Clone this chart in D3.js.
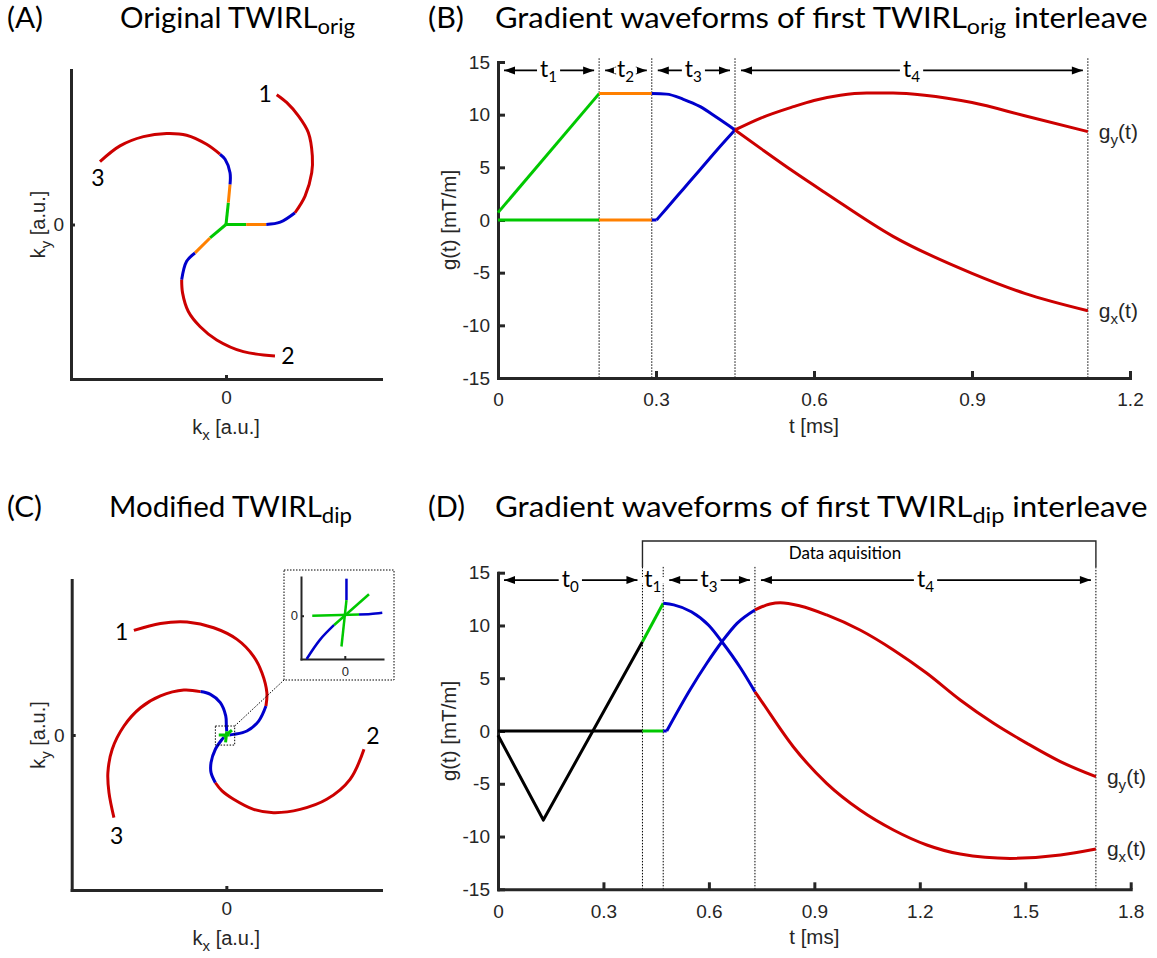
<!DOCTYPE html>
<html>
<head>
<meta charset="utf-8">
<script src="https://cdn.jsdelivr.net/npm/d3@7"></script>
<style>
  body { margin: 0; background: #fff; }
  svg { display: block; }
</style>
</head>
<body>
<svg id="fig" width="1157" height="958"></svg>
<script>
// ---------- data ----------
// gradient phases and the colour each one is drawn in
const phases = ['t0', 't1', 't2', 't3', 't4'];
const phaseColors = ['#000000', '#00c800', '#ff8000', '#0000cc', '#cc0000'];

// (A) original TWIRL, three interleaves, kx / ky in a.u. (-1..1)
const origArm1 = [
  ['t1', [[0, 0], [0.13, 0]]],
  ['t2', [[0.13, 0], [0.26, 0]]],
  ['t3', [[0.26, 0], [0.35, 0.015], [0.445, 0.076]]],
  ['t4', [[0.445, 0.076], [0.51, 0.184], [0.553, 0.335], [0.557, 0.444], [0.531, 0.595], [0.467, 0.703], [0.391, 0.79], [0.327, 0.84]]]
];
const origArm2 = [
  ['t1', [[0, 0], [-0.103, -0.087]]],
  ['t2', [[-0.103, -0.087], [-0.2, -0.184]]],
  ['t3', [[-0.2, -0.184], [-0.254, -0.238], [-0.286, -0.357]]],
  ['t4', [[-0.286, -0.357], [-0.28, -0.444], [-0.243, -0.563], [-0.168, -0.66], [-0.06, -0.747], [0.112, -0.823], [0.316, -0.851]]]
];
const origArm3 = [
  ['t1', [[0, 0], [0.015, 0.141]]],
  ['t2', [[0.015, 0.141], [0.026, 0.26]]],
  ['t3', [[0.026, 0.26], [0.026, 0.335], [-0.006, 0.422], [-0.039, 0.455]]],
  ['t4', [[-0.039, 0.455], [-0.125, 0.519], [-0.254, 0.578], [-0.383, 0.589], [-0.533, 0.569], [-0.684, 0.509], [-0.813, 0.407]]]
];
const origLabels = [['1', 0.252, 0.844], ['2', 0.40, -0.85], ['3', -0.826, 0.305]];

// (C) modified TWIRL with dip
const dipArm1 = [
  ['t3', [[0.021, 0], [0.047, 0.004], [0.133, 0.026], [0.209, 0.09], [0.256, 0.187]]],
  ['t4', [[0.256, 0.187], [0.262, 0.273], [0.23, 0.402], [0.176, 0.508], [0.069, 0.617], [-0.082, 0.692], [-0.254, 0.729], [-0.426, 0.72], [-0.598, 0.675]]],
  ['t1', [[-0.049, 0], [0.021, 0]]]
];
const dipArm2 = [
  ['t3', [[-0.016, -0.014], [-0.028, -0.028], [-0.071, -0.092], [-0.099, -0.178], [-0.099, -0.243], [-0.071, -0.308]]],
  ['t4', [[-0.071, -0.308], [-0.028, -0.361], [0.047, -0.415], [0.176, -0.48], [0.305, -0.501], [0.477, -0.48], [0.649, -0.415], [0.8, -0.286], [0.89, -0.092]]],
  ['t1', [[0.036, 0.032], [-0.016, -0.014]]]
];
const dipArm3 = [
  ['t3', [[0.0025, 0.0235], [0.0, 0.06], [-0.004, 0.123], [-0.039, 0.209], [-0.103, 0.262], [-0.168, 0.28]]],
  ['t4', [[-0.168, 0.28], [-0.275, 0.29], [-0.426, 0.252], [-0.555, 0.176], [-0.662, 0.058], [-0.738, -0.092], [-0.766, -0.243], [-0.759, -0.372], [-0.727, -0.533]]],
  ['t1', [[-0.005, -0.047], [0.0025, 0.0235]]]
];
const dipLabels = [['1', -0.677, 0.665], ['2', 0.948, -0.006], ['3', -0.71, -0.652]];
const dipZoomBox = [[-0.071, -0.065], [0.054, 0.058]];

// (C) inset, zoom on the k-space centre
const insetArm1 = [
  ['t3', [[0.358, 0.033], [0.65, 0.045], [0.942, 0.075]]],
  ['t1', [[-0.817, 0], [0.358, 0.033]]]
];
const insetArm2 = [
  ['t3', [[-0.267, -0.233], [-0.625, -0.608], [-0.958, -1.09]]],
  ['t1', [[0.608, 0.542], [-0.267, -0.233]]]
];
const insetArm3 = [
  ['t3', [[0.042, 0.392], [0.042, 0.933]]],
  ['t1', [[-0.083, -0.775], [0.042, 0.392]]]
];

// (B) gradient waveforms of TWIRL_orig, t in ms, g in mT/m
const bTimes = [0, 0.192, 0.292, 0.45, 1.12];
const bPhaseNames = ['1', '2', '3', '4'];
const bGx = [
  ['t1', [[0, 0.7], [0.192, 12]]],
  ['t2', [[0.192, 12], [0.292, 12]]],
  ['t3', [[0.292, 12], [0.32, 11.95], [0.352, 11.46], [0.384, 10.76], [0.415, 9.75], [0.45, 8.55]]],
  ['t4', [[0.45, 8.55], [0.5, 6.75], [0.561, 4.6], [0.624, 2.5], [0.75, -1.55], [0.9, -5.06], [1.0, -6.96], [1.12, -8.61]]]
];
const bGy = [
  ['t1', [[0, 0], [0.192, 0]]],
  ['t2', [[0.192, 0], [0.292, 0]]],
  ['t3', [[0.292, 0], [0.301, 0]]],
  ['t3', [[0.301, 0], [0.32, 1.1], [0.352, 2.95], [0.384, 4.8], [0.415, 6.6], [0.45, 8.55]]],
  ['t4', [[0.45, 8.55], [0.5, 9.7], [0.561, 10.76], [0.6, 11.35], [0.65, 11.85], [0.7, 12.05], [0.75, 12.05], [0.81, 11.85], [0.9, 11.15], [1.0, 9.9], [1.12, 8.39]]]
];

// (D) gradient waveforms of TWIRL_dip
const dTimes = [0, 0.411, 0.47, 0.731, 1.701];
const dPhaseNames = ['0', '1', '3', '4'];
const dGx = [
  ['t0', [[0, -0.4], [0.129, -8.44], [0.411, 8.46]]],
  ['t1', [[0.411, 8.46], [0.47, 12.1]]],
  ['t3', [[0.47, 12.1], [0.5, 11.95], [0.55, 11.3], [0.6, 10.0], [0.637, 8.46], [0.69, 5.97], [0.731, 3.72]]],
  ['t4', [[0.731, 3.72], [0.746, 3.0], [0.84, -1.49], [0.935, -4.96], [1.03, -7.49], [1.125, -9.38], [1.22, -10.8], [1.315, -11.66], [1.457, -12.07], [1.6, -11.75], [1.701, -11.18]]]
];
const dGy = [
  ['t0', [[0, 0], [0.411, 0]]],
  ['t1', [[0.411, 0], [0.47, 0]]],
  ['t3', [[0.47, 0], [0.48, 0]]],
  ['t3', [[0.48, 0], [0.546, 3.89], [0.594, 6.42], [0.637, 8.46], [0.68, 10.2], [0.731, 11.47]]],
  ['t4', [[0.731, 11.47], [0.774, 12.04], [0.803, 12.16], [0.86, 11.85], [0.935, 11.0], [1.03, 9.57], [1.125, 7.68], [1.22, 5.47], [1.315, 2.94], [1.41, 0.73], [1.505, -1.17], [1.6, -2.9], [1.701, -4.33]]]
];
const dAcq = [0.411, 1.701];

const gTicks = [-15, -10, -5, 0, 5, 10, 15];
const bTicks = [0, 0.3, 0.6, 0.9, 1.2];
const dTicks = [0, 0.3, 0.6, 0.9, 1.2, 1.5, 1.8];

// ---------- drawing ----------
const svg = d3.select('#fig');
svg.append('rect').attr('width', 1157).attr('height', 958).attr('fill', '#fff');

const color = d3.scaleOrdinal(phases, phaseColors);
const ARIAL = '"Liberation Sans", Arial, Helvetica, sans-serif';
const CALI = 'Lato, "Open Sans", sans-serif';
const INK = '#262626';

// text made of normal and subscript pieces
function makeLabel(g, x, y, parts, fs, family, anchor, fill, subScale = 0.72, subShift = 0.22) {
  const t = g.append('text')
    .attr('x', x).attr('y', y)
    .attr('font-family', family).attr('font-size', fs)
    .attr('fill', fill || '#000')
    .attr('text-anchor', anchor || 'start');
  let shift = 0;
  parts.forEach(([s, sub]) => {
    const want = sub ? fs * subShift : 0;
    const ts = t.append('tspan').attr('dy', want - shift).text(s);
    if (sub) ts.attr('font-size', fs * subScale);
    shift = want;
  });
  return t;
}

// title text, squeezed sideways so it spans the same width as the original
function titleLabel(g, x, y, parts, width, fs = 29) {
  const gg = g.append('g');
  const t = makeLabel(gg, 0, 0, parts, fs, CALI, 'start', '#000', 0.75, 0.2);
  const w = t.node().getBBox().width;
  gg.attr('transform', `translate(${x},${y}) scale(${width ? width / w : 1},1)`);
  return gg;
}

function styleAxis(a, w, fs) {
  a.attr('font-family', ARIAL).attr('font-size', fs);
  a.select('.domain').attr('stroke', INK).attr('stroke-width', w).attr('stroke-linecap', 'square');
  a.selectAll('.tick line').attr('stroke', INK).attr('stroke-width', w);
  a.selectAll('.tick text').attr('fill', INK);
}

function drawArm(g, arm, x, y, w) {
  const line = d3.line().x(d => x(d[0])).y(d => y(d[1])).curve(d3.curveCatmullRom);
  arm.forEach(([ph, pts]) => {
    g.append('path').attr('d', line(pts))
      .attr('fill', 'none').attr('stroke', color(ph))
      .attr('stroke-width', w).attr('stroke-linejoin', 'round');
  });
}

function kAxes(g, x, y) {
  const ax = g.append('g').attr('transform', `translate(0,${y(-1)})`)
    .call(d3.axisBottom(x).tickValues([0]).tickFormat(d => String(d))
      .tickSizeInner(-4).tickSizeOuter(0).tickPadding(12));
  const ay = g.append('g').attr('transform', `translate(${x(-1)},0)`)
    .call(d3.axisLeft(y).tickValues([0]).tickFormat(d => String(d))
      .tickSizeInner(-4).tickSizeOuter(0).tickPadding(7));
  styleAxis(ax, 3, 19);
  styleAxis(ay, 3, 19);
  makeLabel(g, x(0), y(-1) + 55, [['k'], ['x', 1], [' [a.u.]']], 20, ARIAL, 'middle', INK, 0.75, 0.3);
  const r = g.append('g').attr('transform', `translate(45,${y(0)}) rotate(-90)`);
  makeLabel(r, 0, 0, [['k'], ['y', 1], [' [a.u.]']], 20, ARIAL, 'middle', INK, 0.75, 0.3);
}

function armLabels(g, labels, x, y) {
  labels.forEach(([s, kx, ky]) => {
    g.append('text').attr('x', x(kx)).attr('y', y(ky)).attr('dy', '0.36em')
      .attr('text-anchor', 'middle').attr('font-family', CALI).attr('font-size', 23)
      .attr('fill', '#000').text(s);
  });
}

function waveAxes(g, x, y, xTicks) {
  const ax = g.append('g').attr('transform', `translate(0,${y(-15)})`)
    .call(d3.axisBottom(x).tickValues(xTicks).tickSizeInner(-7).tickSizeOuter(0).tickPadding(15)
      .tickFormat(d => d === 0 ? '0' : d.toFixed(1)));
  const ay = g.append('g').attr('transform', `translate(${x(0)},0)`)
    .call(d3.axisLeft(y).tickValues(gTicks).tickSizeInner(-7).tickSizeOuter(0).tickPadding(8)
      .tickFormat(d => String(d)));
  styleAxis(ax, 3, 19);
  styleAxis(ay, 3, 19);
  const r = g.append('g').attr('transform', `translate(456,${y(0)}) rotate(-90)`);
  makeLabel(r, 0, 0, [['g(t) [mT/m]']], 20.5, ARIAL, 'middle', INK);
  makeLabel(g, (x.range()[0] + x.range()[1]) / 2, y(-15) + 55, [['t [ms]']], 20.5, ARIAL, 'middle', INK);
}

function drawWave(g, x, y, series) {
  const segs = series.flat().slice()
    .sort((a, b) => phases.indexOf(a[0]) - phases.indexOf(b[0]));
  segs.forEach(([ph, pts]) => {
    const line = d3.line().x(d => x(d[0])).y(d => y(d[1]))
      .curve(ph === 't0' ? d3.curveLinear : d3.curveMonotoneX);
    g.append('path').attr('d', line(pts))
      .attr('fill', 'none').attr('stroke', color(ph))
      .attr('stroke-width', 3).attr('stroke-linejoin', 'round');
  });
}

function dotted(g, x1, y1, x2, y2) {
  g.append('line').attr('x1', x1).attr('y1', y1).attr('x2', x2).attr('y2', y2)
    .attr('stroke', '#000').attr('stroke-width', 1).attr('stroke-dasharray', '1.5,1.5');
}

function phaseArrows(g, x, yPix, bounds, names) {
  names.forEach((n, i) => {
    const a = x(bounds[i]), b = x(bounds[i + 1]);
    const cx = (a + b) / 2;
    const gg = g.append('g');
    if (b - a > 35) {
      const x0 = a + 6, x1 = b - 5;
      gg.append('line').attr('x1', x0).attr('x2', x1).attr('y1', yPix).attr('y2', yPix)
        .attr('stroke', '#000').attr('stroke-width', 1.8);
      gg.append('path').attr('d', `M${x0},${yPix}l11,-4v8z`).attr('fill', '#000');
      gg.append('path').attr('d', `M${x1},${yPix}l-11,-4v8z`).attr('fill', '#000');
    }
    const bg = gg.append('rect').attr('fill', '#fff');
    const t = makeLabel(gg, cx, yPix + 7, [['t'], [n, 1]], 23, CALI, 'middle', '#000', 0.66, 0.22);
    const bb = t.node().getBBox();
    bg.attr('x', bb.x - 3).attr('y', yPix - 3).attr('width', bb.width + 6).attr('height', 6);
  });
}

function endLabels(g, x, y, tEnd, gx, gy) {
  const lastVal = s => { const p = s[s.length - 1][1]; return p[p.length - 1][1]; };
  makeLabel(g, x(tEnd) + 11, y(lastVal(gy)) + 7, [['g'], ['y', 1], ['(t)']], 21, ARIAL, 'start', INK, 0.72, 0.3);
  makeLabel(g, x(tEnd) + 11, y(lastVal(gx)) + 7, [['g'], ['x', 1], ['(t)']], 21, ARIAL, 'start', INK, 0.72, 0.3);
}

// ---- titles ----
const titles = svg.append('g');
titleLabel(titles, 7, 28, [['(A)']], 36);
titleLabel(titles, 120, 28, [['Original TWIRL'], ['orig', 1]], 235);
titleLabel(titles, 428, 28, [['(B)']], 36);
titleLabel(titles, 495, 28, [['Gradient waveforms of first TWIRL'], ['orig', 1], [' interleave']], 653);
titleLabel(titles, 7, 517, [['(C)']], 35);
titleLabel(titles, 109, 517, [['Modified TWIRL'], ['dip', 1]], 243);
titleLabel(titles, 428, 517, [['(D)']], 37);
titleLabel(titles, 495, 517, [['Gradient waveforms of first TWIRL'], ['dip', 1], [' interleave']], 653);

// ---- (A) ----
const xA = d3.scaleLinear([-1, 1], [71, 381]);
const yA = d3.scaleLinear([-1, 1], [379, 70]);
const gA = svg.append('g');
kAxes(gA, xA, yA);
[origArm1, origArm2, origArm3].forEach(arm => drawArm(gA, arm, xA, yA, 3));
armLabels(gA, origLabels, xA, yA);

// ---- (C) ----
const xC = d3.scaleLinear([-1, 1], [71.7, 381]);
const yC = d3.scaleLinear([-1, 1], [890, 580]);
const gC = svg.append('g');
kAxes(gC, xC, yC);
[dipArm1, dipArm2, dipArm3].forEach(arm => drawArm(gC, arm.filter(s => s[0] !== 't1'), xC, yC, 3));
[dipArm1, dipArm2, dipArm3].forEach(arm => drawArm(gC, arm.filter(s => s[0] === 't1'), xC, yC, 3));
armLabels(gC, dipLabels, xC, yC);
const bx0 = xC(dipZoomBox[0][0]), bx1 = xC(dipZoomBox[1][0]);
const by0 = yC(dipZoomBox[1][1]), by1 = yC(dipZoomBox[0][1]);
gC.append('rect').attr('x', bx0).attr('y', by0).attr('width', bx1 - bx0).attr('height', by1 - by0)
  .attr('fill', 'none').attr('stroke', '#000').attr('stroke-width', 1).attr('stroke-dasharray', '1.5,1.5');
dotted(gC, bx1, by0, 284, 680);

// inset
const gI = svg.append('g');
gI.append('rect').attr('x', 284).attr('y', 570).attr('width', 110).attr('height', 110)
  .attr('fill', '#fff').attr('stroke', '#000').attr('stroke-width', 1).attr('stroke-dasharray', '1.5,1.5');
const xI = d3.scaleLinear([-1.1, 0.96], [301, 383]);
const yI = d3.scaleLinear([-1.09, 0.975], [659, 577]);
const iax = gI.append('g').attr('transform', `translate(0,${yI(-1.09)})`)
  .call(d3.axisBottom(xI).tickValues([0]).tickFormat(d => String(d))
    .tickSizeInner(-3).tickSizeOuter(0).tickPadding(8));
const iay = gI.append('g').attr('transform', `translate(${xI(-1.1)},0)`)
  .call(d3.axisLeft(yI).tickValues([0]).tickFormat(d => String(d))
    .tickSizeInner(-3).tickSizeOuter(0).tickPadding(3));
styleAxis(iax, 2, 13);
styleAxis(iay, 2, 13);
[insetArm1, insetArm2, insetArm3].forEach(arm => drawArm(gI, arm.filter(s => s[0] !== 't1'), xI, yI, 2.5));
[insetArm1, insetArm2, insetArm3].forEach(arm => drawArm(gI, arm.filter(s => s[0] === 't1'), xI, yI, 2.5));

// ---- (B) ----
const xB = d3.scaleLinear([0, 1.2], [498, 1130]);
const yB = d3.scaleLinear([-15, 15], [378, 62]);
const gB = svg.append('g');
bTimes.slice(1).forEach(t => dotted(gB, xB(t), yB(15.35), xB(t), yB(-15)));
waveAxes(gB, xB, yB, bTicks);
drawWave(gB, xB, yB, [bGx, bGy]);
phaseArrows(gB, xB, yB(14.2), bTimes, bPhaseNames);
endLabels(gB, xB, yB, bTimes[bTimes.length - 1], bGx, bGy);

// ---- (D) ----
const xD = d3.scaleLinear([0, 1.8], [498, 1130.7]);
const yD = d3.scaleLinear([-15, 15], [889.3, 572.7]);
const gD = svg.append('g');
dTimes.slice(1).forEach(t => dotted(gD, xD(t), yD(15.55), xD(t), yD(-15)));
gD.append('path')
  .attr('d', `M${xD(dAcq[0])},${yD(15.55)}V${yD(18)}H${xD(dAcq[1])}V${yD(15.55)}`)
  .attr('fill', 'none').attr('stroke', INK).attr('stroke-width', 1.4);
makeLabel(gD, xD(0.987), yD(18) + 18, [['Data aquisition']], 17, CALI, 'middle', '#000');
waveAxes(gD, xD, yD, dTicks);
drawWave(gD, xD, yD, [dGx, dGy]);
phaseArrows(gD, xD, yD(14.3), dTimes, dPhaseNames);
endLabels(gD, xD, yD, dTimes[dTimes.length - 1], dGx, dGy);
</script>
</body>
</html>
